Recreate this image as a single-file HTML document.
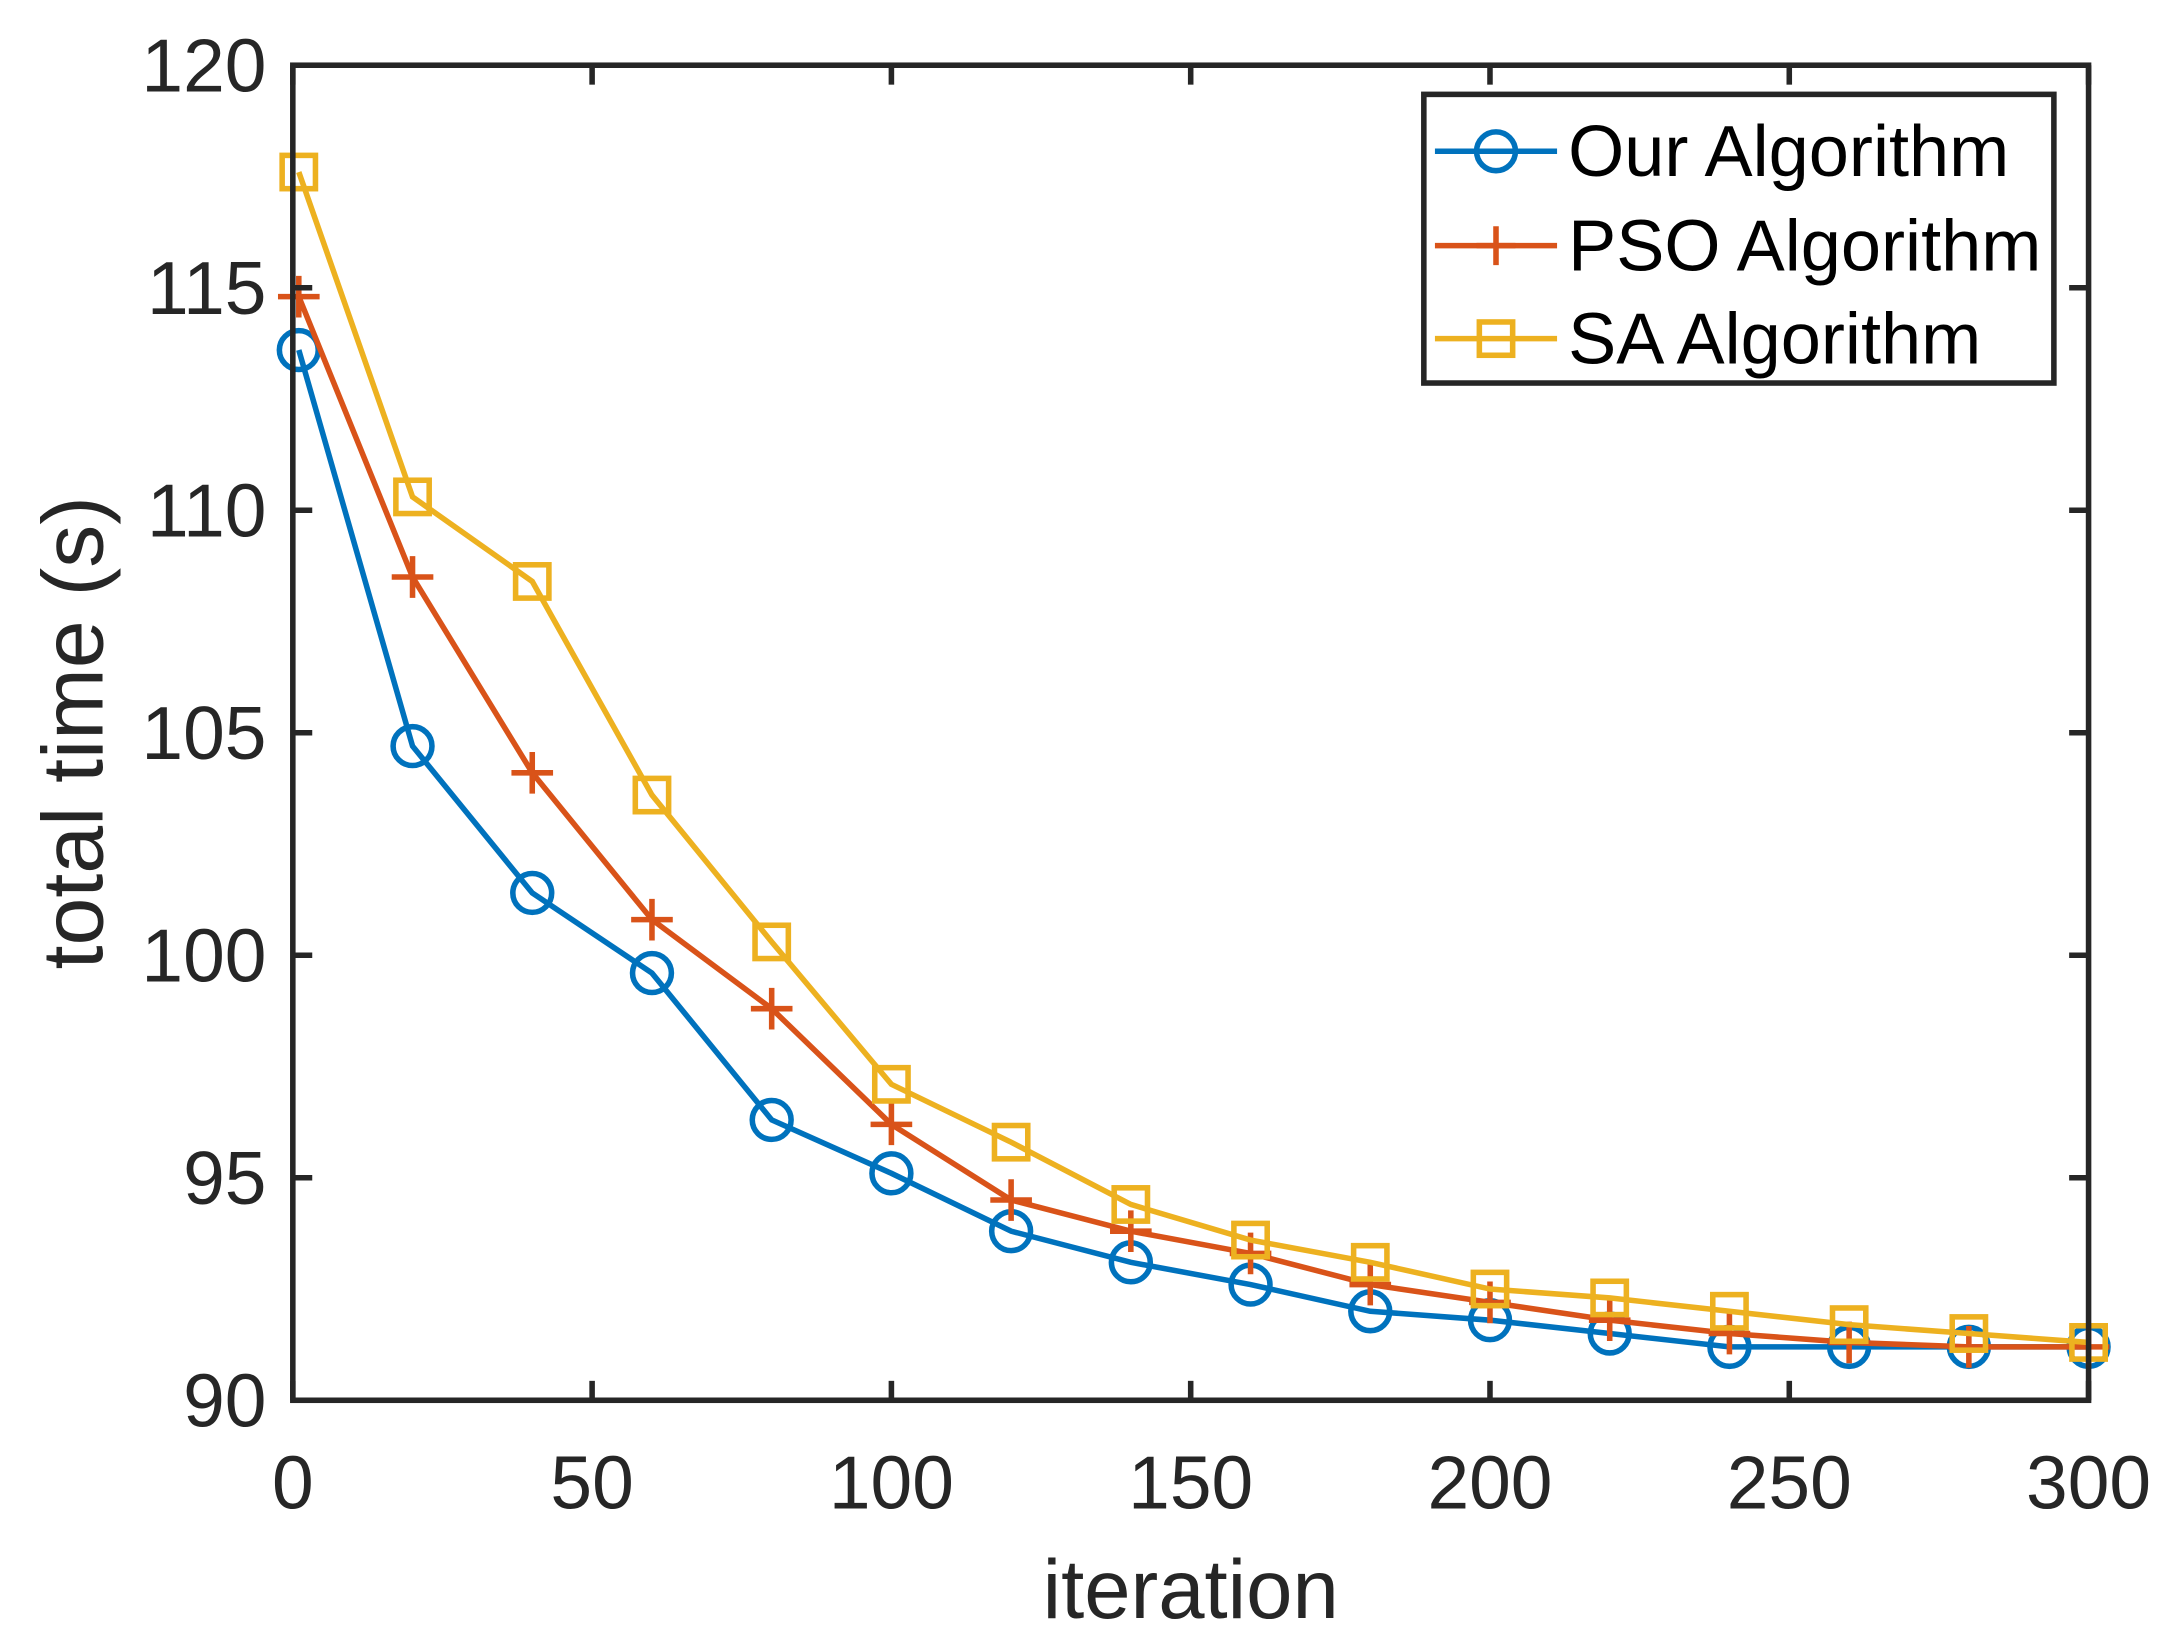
<!DOCTYPE html>
<html><head><meta charset="utf-8"><style>html,body{margin:0;padding:0;background:#fff}svg{display:block}</style></head>
<body>
<svg id="c" width="2176" height="1648" viewBox="0 0 1568 1187.5" preserveAspectRatio="none" xmlns="http://www.w3.org/2000/svg" font-family="Liberation Sans, Arial, sans-serif">
<rect width="1568" height="1188" fill="#fff"/>
<g id="plot"></g>
<g id="axes" stroke="#262626" stroke-width="4" fill="none">
<rect x="211" y="47" width="1294" height="962"/>
</g>
<g id="ticks" stroke="#262626" stroke-width="4"></g>
<g id="labels" fill="#262626" font-size="54"></g>
<text x="858" y="1166" font-size="60" fill="#262626" text-anchor="middle">iteration</text>
<text transform="translate(74,528) rotate(-90)" font-size="62" fill="#262626" text-anchor="middle">total time (s)</text>
<g>
<rect x="1026" y="68" width="454" height="208" fill="#fff" stroke="#262626" stroke-width="4"/>
<line x1="1034" y1="109" x2="1122" y2="109" stroke="#0072BD" stroke-width="4"/>
<circle cx="1078" cy="109" r="14" fill="none" stroke="#0072BD" stroke-width="4"/>
<line x1="1034" y1="177" x2="1122" y2="177" stroke="#D95319" stroke-width="4"/>
<path d="M1064 177H1092M1078 163V191" stroke="#D95319" stroke-width="4"/>
<line x1="1034" y1="244" x2="1122" y2="244" stroke="#EDB120" stroke-width="4"/>
<rect x="1066" y="232" width="24" height="24" fill="none" stroke="#EDB120" stroke-width="4"/>
<text x="1130" y="127" font-size="52" fill="#000">Our Algorithm</text>
<text x="1130" y="195" font-size="52" fill="#000">PSO Algorithm</text>
<text x="1130" y="262" font-size="52" fill="#000">SA Algorithm</text>
</g>
</svg>
<script>
var NS="http://www.w3.org/2000/svg";
function X(v){return 211+v*1294/300}
function Y(v){return 1009-(v-90)*962/30}
function el(p,t,a){var e=document.createElementNS(NS,t);for(var k in a)e.setAttribute(k,a[k]);p.appendChild(e);return e}
var xs=[1,20,40,60,80,100,120,140,160,180,200,220,240,260,280,300];
var S=[
{c:"#0072BD",m:"o",d:[113.6,104.7,101.4,99.6,96.3,95.1,93.8,93.1,92.6,92.0,91.8,91.5,91.2,91.2,91.2,91.2]},
{c:"#D95319",m:"+",d:[114.8,108.5,104.1,100.8,98.8,96.2,94.5,93.8,93.3,92.6,92.2,91.8,91.5,91.3,91.2,91.2]},
{c:"#EDB120",m:"s",d:[117.6,110.3,108.4,103.6,100.3,97.1,95.8,94.4,93.6,93.1,92.5,92.3,92.0,91.7,91.5,91.3]}];
var P=document.getElementById("plot");
S.forEach(function(s){
 var pts=xs.map(function(x,i){return X(x)+","+Y(s.d[i])}).join(" ");
 el(P,"polyline",{points:pts,fill:"none",stroke:s.c,"stroke-width":4});
 xs.forEach(function(x,i){var cx=X(x),cy=Y(s.d[i]);
  if(s.m=="o")el(P,"circle",{cx:cx,cy:cy,r:14,fill:"none",stroke:s.c,"stroke-width":4});
  else if(s.m=="+")el(P,"path",{d:"M"+(cx-15)+" "+cy+"H"+(cx+15)+"M"+cx+" "+(cy-15)+"V"+(cy+15),stroke:s.c,"stroke-width":4});
  else el(P,"rect",{x:cx-12,y:cy-12,width:24,height:24,fill:"none",stroke:s.c,"stroke-width":4});
 });
});
var T=document.getElementById("ticks"),L=document.getElementById("labels");
for(var v=0;v<=300;v+=50){var x=X(v);
 el(T,"line",{x1:x,y1:1009,x2:x,y2:995});el(T,"line",{x1:x,y1:47,x2:x,y2:61});
 var t=el(L,"text",{x:x,y:1087,"text-anchor":"middle"});t.textContent=v;}
for(var v=90;v<=120;v+=5){var y=Y(v);
 el(T,"line",{x1:211,y1:y,x2:225,y2:y});el(T,"line",{x1:1505,y1:y,x2:1491,y2:y});
 var t=el(L,"text",{x:192,y:y+19,"text-anchor":"end"});t.textContent=v;}
</script>
</body></html>
